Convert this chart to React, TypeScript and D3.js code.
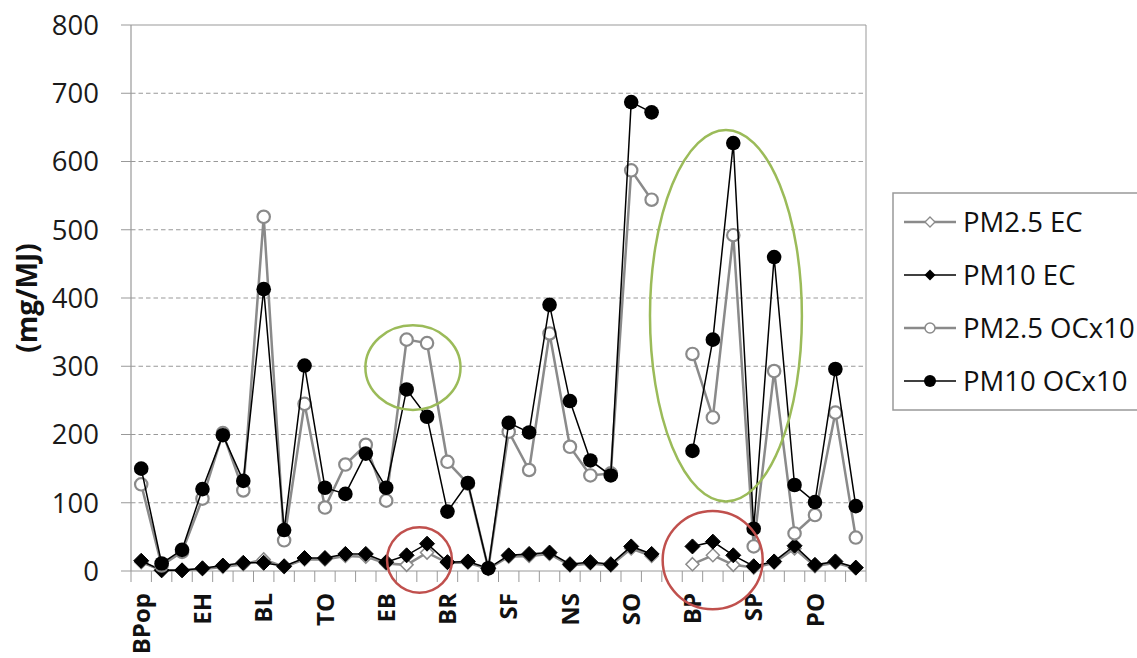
import React from "react";
import * as d3 from "d3";

// ---- data ----
const tickLabels = ["BPop", "EH", "BL", "TO", "EB", "BR", "SF", "NS", "SO", "BP", "SP", "PO"];
const labelEvery = 3;
const categoryCount = 36;
const yTicks = [0, 100, 200, 300, 400, 500, 600, 700, 800];

const pm25EC: (number | null)[] = [13, 1, 1, 3, 6, 10, 17, 6, 17, 17, 22, 21, 11, 9, 27, 12, 12, 3, 21, 22, 25, 8, 11, 8, 33, 22, null, 10, 23, 9, 5, 12, 33, 7, 12, 4];
const pm10EC: (number | null)[] = [15, 1, 1, 4, 8, 12, 12, 7, 19, 19, 25, 25, 13, 23, 40, 13, 14, 4, 23, 25, 27, 10, 13, 10, 36, 25, null, 36, 43, 23, 7, 14, 37, 9, 14, 5];
const pm25OC: (number | null)[] = [127, 8, 28, 106, 202, 118, 519, 45, 245, 93, 156, 185, 103, 339, 334, 160, 128, 4, 204, 148, 348, 182, 140, 143, 587, 544, null, 318, 225, 492, 36, 293, 55, 82, 232, 49];
const pm10OC: (number | null)[] = [150, 11, 31, 120, 199, 132, 413, 60, 301, 122, 113, 172, 122, 266, 226, 87, 129, 4, 217, 203, 390, 249, 162, 140, 687, 672, null, 176, 339, 627, 62, 460, 126, 101, 296, 95];

const seriesNames = ["PM2.5 EC", "PM10 EC", "PM2.5 OCx10", "PM10 OCx10"];

// annotation ellipses in data units: [center index, center value, half-width in categories, half-height in value]
const greenEllipses = [
  [13.31, 298, 2.33, 62],
  [28.64, 374, 3.72, 272],
];
const redEllipses = [
  [13.63, 16, 1.59, 48],
  [27.99, 16, 2.45, 72],
];

const W = 1137;
const H = 658;
const FONT = "'Open Sans', 'DejaVu Sans', sans-serif";

export default function App() {
  const x = d3
    .scaleBand<number>()
    .domain(d3.range(categoryCount))
    .range([131, 866])
    .paddingInner(0)
    .paddingOuter(0);
  const step = x.step();
  const cx = (i: number) => (x(0) as number) + step / 2 + i * step;
  const y = d3.scaleLinear().domain([0, 800]).range([571, 25]);

  const line = d3
    .line<number | null>()
    .defined((d) => d !== null)
    .x((_, i) => cx(i))
    .y((d) => y(d as number));

  const gray = "#8a8a8a";
  const axisColor = "#999";

  const diamond = (px: number, py: number, r: number) =>
    `M${px},${py - r}L${px + r},${py}L${px},${py + r}L${px - r},${py}Z`;

  const [x0, x1] = x.range();
  const [yb, yt] = y.range();

  const legendY = [222, 275, 328, 381];

  return (
    <svg
      width={W}
      height={H}
      style={{ position: "absolute", left: 0, top: 0, background: "#fff" }}
      fontFamily={FONT}
    >
      <rect x={0} y={0} width={W} height={H} fill="#fff" />
      {/* gridlines */}
      {yTicks.map((t) =>
        t === 0 || t === 800 ? null : (
          <line key={"g" + t} x1={x0} x2={x1} y1={y(t)} y2={y(t)} stroke="#999" strokeWidth={1.2} strokeDasharray="4.5,3" />
        )
      )}
      {/* y ticks */}
      {yTicks.map((t) => (
        <line key={"yt" + t} x1={x0 - 10} x2={x0} y1={y(t)} y2={y(t)} stroke={axisColor} strokeWidth={1} />
      ))}
      {/* plot border top/right */}
      <line x1={x0} x2={x1} y1={yt} y2={yt} stroke={axisColor} strokeWidth={1} />
      <line x1={x1} x2={x1} y1={yt} y2={yb} stroke={axisColor} strokeWidth={1} />
      {/* axes */}
      <line x1={x0} x2={x0} y1={yt} y2={yb} stroke={axisColor} strokeWidth={1.2} />
      <line x1={x0} x2={x1} y1={yb} y2={yb} stroke={axisColor} strokeWidth={1.2} />
      {d3.range(categoryCount + 1).map((i) => (
        <line key={"xt" + i} x1={x0 + i * step} x2={x0 + i * step} y1={yb} y2={yb + 11} stroke={axisColor} strokeWidth={1} />
      ))}
      {/* y tick labels */}
      {yTicks.map((t) => (
        <text key={"yl" + t} x={99} y={y(t)} dy="0.36em" textAnchor="end" fontSize={27.5} fill="#1a1a1a">
          {t}
        </text>
      ))}
      {/* y title */}
      <text transform={`translate(27,${(yb + yt) / 2}) rotate(-90)`} dy="0.36em" textAnchor="middle" fontSize={28} fontWeight="bold" fill="#111">
        (mg/MJ)
      </text>
      {/* x labels */}
      {tickLabels.map((lab, k) => (
        <text
          key={"xl" + k}
          transform={`translate(${cx(k * labelEvery)},593) rotate(-90)`}
          dy="0.36em"
          textAnchor="end"
          fontSize={24}
          fontWeight="bold"
          fill="#111"
        >
          {lab}
        </text>
      ))}

      {/* series: PM2.5 EC */}
      <path d={line(pm25EC) || ""} fill="none" stroke={gray} strokeWidth={2.5} />
      {pm25EC.map((v, i) =>
        v === null ? null : <path key={"a" + i} d={diamond(cx(i), y(v), 6.5)} fill="#fff" stroke={gray} strokeWidth={1.5} />
      )}
      {/* PM10 EC */}
      <path d={line(pm10EC) || ""} fill="none" stroke="#000" strokeWidth={1.5} />
      {pm10EC.map((v, i) =>
        v === null ? null : <path key={"b" + i} d={diamond(cx(i), y(v), 7.5)} fill="#000" stroke="#000" strokeWidth={1} />
      )}
      {/* PM2.5 OCx10 */}
      <path d={line(pm25OC) || ""} fill="none" stroke={gray} strokeWidth={2.5} />
      {pm25OC.map((v, i) =>
        v === null ? null : <circle key={"c" + i} cx={cx(i)} cy={y(v)} r={6.2} fill="#fff" stroke={gray} strokeWidth={2.2} />
      )}
      {/* PM10 OCx10 */}
      <path d={line(pm10OC) || ""} fill="none" stroke="#000" strokeWidth={1.5} />
      {pm10OC.map((v, i) =>
        v === null ? null : <circle key={"d" + i} cx={cx(i)} cy={y(v)} r={7.3} fill="#000" />
      )}

      {/* annotations */}
      {greenEllipses.map(([ci, cv, hw, hh], k) => (
        <ellipse key={"ge" + k} cx={cx(ci)} cy={y(cv)} rx={hw * step} ry={y(0) - y(hh)} fill="none" stroke="#9bbb59" strokeWidth={2.5} />
      ))}
      {redEllipses.map(([ci, cv, hw, hh], k) => (
        <ellipse key={"re" + k} cx={cx(ci)} cy={y(cv)} rx={hw * step} ry={y(0) - y(hh)} fill="none" stroke="#c0504d" strokeWidth={2.5} />
      ))}

      {/* legend */}
      <rect x={893} y={193} width={260} height={217} fill="#fff" stroke={axisColor} strokeWidth={1.5} />
      {seriesNames.map((name, k) => {
        const ly = legendY[k];
        const isGray = k === 0 || k === 2;
        const col = isGray ? gray : "#000";
        let marker;
        if (k === 0) marker = <path d={diamond(930, ly, 5)} fill="#fff" stroke={gray} strokeWidth={1.3} />;
        else if (k === 1) marker = <path d={diamond(930, ly, 5.5)} fill="#000" />;
        else if (k === 2) marker = <circle cx={930} cy={ly} r={5} fill="#fff" stroke={gray} strokeWidth={1.5} />;
        else marker = <circle cx={930} cy={ly} r={6} fill="#000" />;
        return (
          <g key={"lg" + k}>
            <line x1={904} x2={956} y1={ly} y2={ly} stroke={col} strokeWidth={isGray ? 2.5 : 1.5} />
            {marker}
            <text x={963} y={ly} dy="0.36em" fontSize={27.5} fill="#111">
              {name}
            </text>
          </g>
        );
      })}
    </svg>
  );
}
